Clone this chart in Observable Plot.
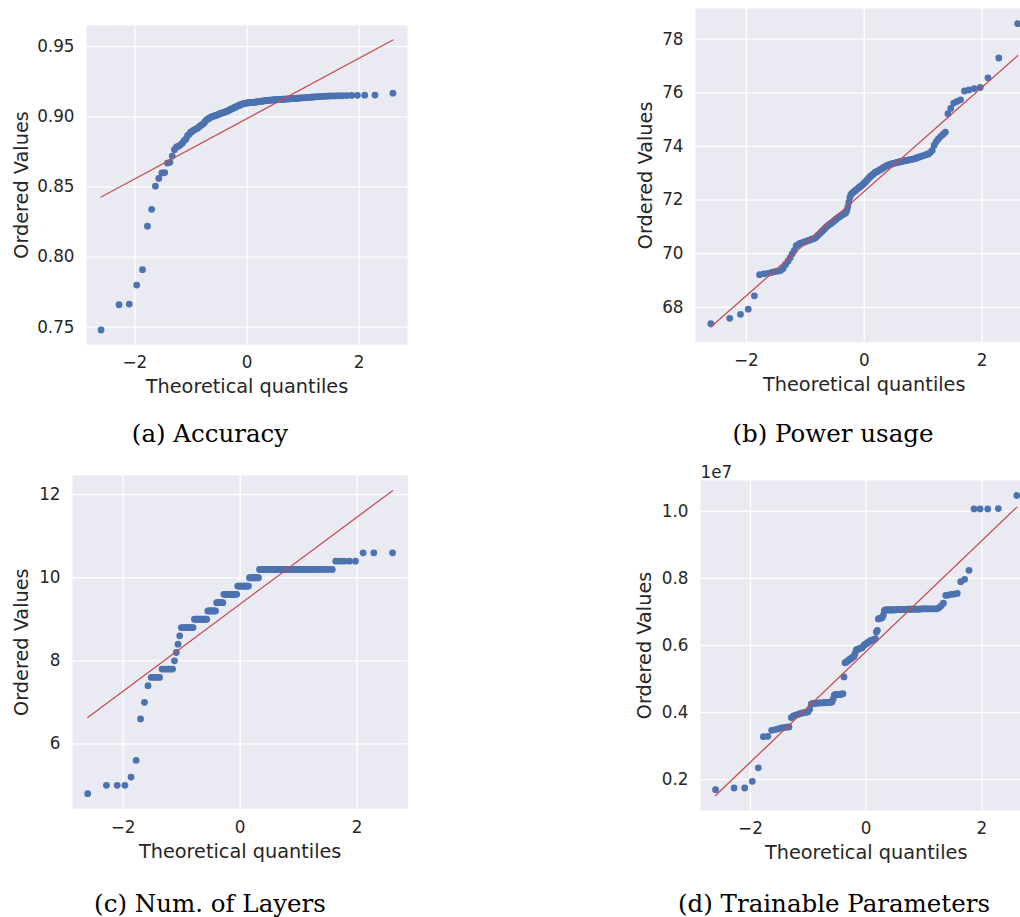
<!DOCTYPE html>
<html>
<head>
<meta charset="utf-8">
<script src="https://cdn.jsdelivr.net/npm/d3@7"></script>
<script src="https://cdn.jsdelivr.net/npm/@observablehq/plot@0.6"></script>
<style>
  html, body { margin: 0; padding: 0; background: #ffffff; }
  #fig { position: relative; width: 1020px; height: 917px; overflow: hidden; background: #ffffff; }
  .panel { position: absolute; width: 420px; height: 400px; }
  .panel svg { max-width: none !important; }
  .caption { position: absolute; transform: translate(-50%, -50%); font-family: "DejaVu Serif", serif; font-size: 24.5px; color: #000; white-space: nowrap; }
</style>
</head>
<body>
<div id="fig"></div>
<script>
// ---------------- Data: ordered sample values (n = 150 each) ----------------
const accuracy = [
  0.748, 0.766, 0.7665, 0.780, 0.791, 0.822, 0.834, 0.8505, 0.856, 0.860,
  0.8602, 0.867, 0.8675, 0.872, 0.8765, 0.8785, 0.879, 0.880, 0.8812, 0.883,
  0.884, 0.8865, 0.8875, 0.889, 0.8895, 0.8905, 0.891, 0.8915, 0.892, 0.893,
  0.8937, 0.8944, 0.895, 0.896, 0.897, 0.898, 0.8985, 0.899, 0.8995, 0.900,
  0.9002, 0.9005, 0.9008, 0.901, 0.9013, 0.9016, 0.902, 0.9022, 0.9025, 0.9028,
  0.903, 0.9033, 0.9035, 0.9038, 0.904, 0.9044, 0.9048, 0.9052, 0.9055, 0.9058,
  0.9062, 0.9065, 0.9068, 0.9071, 0.9075, 0.9078, 0.9081, 0.9084, 0.9087, 0.909,
  0.9092, 0.9094, 0.9096, 0.9097, 0.9098, 0.9099, 0.910, 0.9101, 0.9101, 0.9102,
  0.9102, 0.9103, 0.9103, 0.9104, 0.9105, 0.9106, 0.9107, 0.9108, 0.9109, 0.911,
  0.9111, 0.9112, 0.9113, 0.9114, 0.9115, 0.9116, 0.9116, 0.9117, 0.9118, 0.9118,
  0.9119, 0.912, 0.912, 0.9121, 0.9122, 0.9122, 0.9123, 0.9123, 0.9124, 0.9124,
  0.9125, 0.9125, 0.9126, 0.9126, 0.9127, 0.9127, 0.9128, 0.9129, 0.9129, 0.913,
  0.9131, 0.9131, 0.9132, 0.9133, 0.9134, 0.9135, 0.9135, 0.9136, 0.9137, 0.9138,
  0.9139, 0.914, 0.9141, 0.9142, 0.9143, 0.9144, 0.9145, 0.9146, 0.9147, 0.9148,
  0.9149, 0.9149, 0.915, 0.915, 0.9151, 0.9152, 0.9153, 0.9154, 0.9155, 0.9168
];

const powerUsage = [
  67.39, 67.59, 67.74, 67.93, 68.43, 69.22, 69.25, 69.27, 69.30, 69.33,
  69.35, 69.37, 69.45, 69.60, 69.72, 69.85, 70.00, 70.12, 70.30, 70.34,
  70.38, 70.40, 70.42, 70.45, 70.47, 70.49, 70.51, 70.53, 70.55, 70.57,
  70.60, 70.65, 70.70, 70.74, 70.79, 70.84, 70.88, 70.93, 70.98, 71.02,
  71.06, 71.09, 71.12, 71.15, 71.19, 71.22, 71.26, 71.29, 71.32, 71.35,
  71.38, 71.41, 71.43, 71.46, 71.48, 71.50, 71.53, 71.60, 71.75, 71.92,
  72.10, 72.20, 72.24, 72.28, 72.31, 72.34, 72.37, 72.40, 72.43, 72.46,
  72.49, 72.52, 72.55, 72.58, 72.62, 72.65, 72.69, 72.73, 72.77, 72.81,
  72.85, 72.89, 72.92, 72.95, 72.98, 73.01, 73.04, 73.06, 73.08, 73.10,
  73.12, 73.14, 73.16, 73.19, 73.22, 73.24, 73.26, 73.28, 73.30, 73.31,
  73.33, 73.34, 73.36, 73.37, 73.38, 73.39, 73.40, 73.41, 73.42, 73.43,
  73.44, 73.45, 73.46, 73.47, 73.48, 73.49, 73.50, 73.51, 73.52, 73.53,
  73.54, 73.56, 73.58, 73.60, 73.62, 73.64, 73.66, 73.68, 73.70, 73.72,
  73.78, 73.85, 74.05, 74.18, 74.28, 74.37, 74.45, 74.53, 75.22, 75.42,
  75.62, 75.68, 75.74, 76.07, 76.11, 76.16, 76.20, 76.56, 77.30, 78.58
];

const numLayers = [
  4.8, 5.0, 5.0, 5.0, 5.2, 5.6, 6.6, 7.0, 7.4, 7.6,
  7.6, 7.6, 7.6, 7.8, 7.8, 7.8, 7.8, 7.8, 7.8, 8.0,
  8.2, 8.4, 8.6, 8.8, 8.8, 8.8, 8.8, 8.8, 8.8, 8.8,
  8.8, 8.8, 9.0, 9.0, 9.0, 9.0, 9.0, 9.0, 9.0, 9.0,
  9.0, 9.0, 9.0, 9.2, 9.2, 9.2, 9.2, 9.2, 9.2, 9.2,
  9.2, 9.4, 9.4, 9.4, 9.4, 9.4, 9.4, 9.4, 9.6, 9.6,
  9.6, 9.6, 9.6, 9.6, 9.6, 9.6, 9.6, 9.6, 9.6, 9.6,
  9.6, 9.6, 9.8, 9.8, 9.8, 9.8, 9.8, 9.8, 9.8, 9.8,
  9.8, 9.8, 9.8, 9.8, 10.0, 10.0, 10.0, 10.0, 10.0, 10.0,
  10.0, 10.0, 10.0, 10.0, 10.2, 10.2, 10.2, 10.2, 10.2, 10.2,
  10.2, 10.2, 10.2, 10.2, 10.2, 10.2, 10.2, 10.2, 10.2, 10.2,
  10.2, 10.2, 10.2, 10.2, 10.2, 10.2, 10.2, 10.2, 10.2, 10.2,
  10.2, 10.2, 10.2, 10.2, 10.2, 10.2, 10.2, 10.2, 10.2, 10.2,
  10.2, 10.2, 10.2, 10.2, 10.2, 10.2, 10.2, 10.2, 10.2, 10.2,
  10.2, 10.2, 10.4, 10.4, 10.4, 10.4, 10.4, 10.6, 10.6, 10.6
];

// Trainable parameters, in units of 1e7
const trainableParams = [
  0.170, 0.175, 0.175, 0.195, 0.235, 0.328, 0.329, 0.347, 0.349, 0.351,
  0.354, 0.355, 0.356, 0.357, 0.385, 0.390, 0.392, 0.394, 0.396, 0.398,
  0.399, 0.400, 0.401, 0.402, 0.410, 0.425, 0.427, 0.427, 0.428, 0.428,
  0.428, 0.429, 0.429, 0.429, 0.429, 0.430, 0.430, 0.430, 0.430, 0.431,
  0.431, 0.431, 0.440, 0.452, 0.453, 0.453, 0.454, 0.454, 0.454, 0.455,
  0.455, 0.456, 0.506, 0.548, 0.550, 0.552, 0.555, 0.557, 0.559, 0.561,
  0.563, 0.566, 0.568, 0.575, 0.585, 0.588, 0.589, 0.590, 0.591, 0.592,
  0.593, 0.595, 0.600, 0.602, 0.604, 0.606, 0.608, 0.610, 0.612, 0.614,
  0.615, 0.616, 0.617, 0.618, 0.620, 0.640, 0.645, 0.679, 0.680, 0.681,
  0.682, 0.683, 0.690, 0.704, 0.706, 0.706, 0.706, 0.706, 0.706, 0.706,
  0.706, 0.706, 0.706, 0.706, 0.707, 0.707, 0.707, 0.707, 0.707, 0.707,
  0.707, 0.707, 0.707, 0.707, 0.708, 0.708, 0.708, 0.708, 0.708, 0.708,
  0.708, 0.708, 0.708, 0.708, 0.709, 0.709, 0.709, 0.709, 0.709, 0.709,
  0.709, 0.709, 0.709, 0.709, 0.712, 0.718, 0.726, 0.749, 0.750, 0.752,
  0.753, 0.755, 0.790, 0.797, 0.824, 1.007, 1.007, 1.007, 1.008, 1.047
];

// Tick labels
const xTicks = [-2, 0, 2];
const accuracyTicks = [0.75, 0.80, 0.85, 0.90, 0.95];
const powerTicks = [68, 70, 72, 74, 76, 78];
const layerTicks = [6, 8, 10, 12];
const paramTicks = [0.2, 0.4, 0.6, 0.8, 1.0];

const captions = ["(a) Accuracy", "(b) Power usage", "(c) Num. of Layers", "(d) Trainable Parameters"];

// ---------------- Q-Q transform (as scipy.stats.probplot) ----------------
function normInv(p) {
  const a = [-3.969683028665376e+01, 2.209460984245205e+02, -2.759285104469687e+02, 1.383577518672690e+02, -3.066479806614716e+01, 2.506628277459239e+00];
  const b = [-5.447609879822406e+01, 1.615858368580409e+02, -1.556989798598866e+02, 6.680131188771972e+01, -1.328068155288572e+01];
  const c = [-7.784894002430293e-03, -3.223964580411365e-01, -2.400758277161838e+00, -2.549732539343734e+00, 4.374664141464968e+00, 2.938163982698783e+00];
  const d = [7.784695709041462e-03, 3.224671290700398e-01, 2.445134137142996e+00, 3.754408661907416e+00];
  const pl = 0.02425, ph = 1 - pl;
  let q, r;
  if (p < pl) {
    q = Math.sqrt(-2 * Math.log(p));
    return (((((c[0]*q+c[1])*q+c[2])*q+c[3])*q+c[4])*q+c[5]) / ((((d[0]*q+d[1])*q+d[2])*q+d[3])*q+1);
  }
  if (p <= ph) {
    q = p - 0.5; r = q * q;
    return (((((a[0]*r+a[1])*r+a[2])*r+a[3])*r+a[4])*r+a[5])*q / (((((b[0]*r+b[1])*r+b[2])*r+b[3])*r+b[4])*r+1);
  }
  q = Math.sqrt(-2 * Math.log(1 - p));
  return -(((((c[0]*q+c[1])*q+c[2])*q+c[3])*q+c[4])*q+c[5]) / ((((d[0]*q+d[1])*q+d[2])*q+d[3])*q+1);
}

function qq(values) {
  const ys = values.slice().sort((u, v) => u - v);
  const n = ys.length;
  const last = Math.pow(0.5, 1 / n);
  const rows = ys.map((y, i) => {
    let m;
    if (i === 0) m = 1 - last;
    else if (i === n - 1) m = last;
    else m = (i + 1 - 0.3175) / (n + 0.365);
    return {x: normInv(m), y};
  });
  const mx = d3.mean(rows, d => d.x), my = d3.mean(rows, d => d.y);
  const sxy = d3.sum(rows, d => (d.x - mx) * (d.y - my));
  const sxx = d3.sum(rows, d => (d.x - mx) ** 2);
  const slope = sxy / sxx, intercept = my - slope * mx;
  const x0 = rows[0].x, x1 = rows[n - 1].x;
  const fit = [{x: x0, y: intercept + slope * x0}, {x: x1, y: intercept + slope * x1}];
  return {rows, fit};
}

function pad(lo, hi) { const m = (hi - lo) * 0.05; return [lo - m, hi + m]; }

// ---------------- Panel drawing ----------------
const BG = "#EAEAF2", BLUE = "#4C72B0", RED = "#C44E52", TXT = "#262626";
const fmtInt = d3.format("d");

function panel(values, opts) {
  const {rows, fit} = qq(values);
  const xDom = pad(rows[0].x, rows[rows.length - 1].x);
  const yAll = rows.map(d => d.y).concat(fit.map(d => d.y));
  const yDom = pad(d3.min(yAll), d3.max(yAll));
  const marks = [
    Plot.frame({fill: BG, stroke: null}),
    Plot.ruleX(xTicks, {stroke: "#ffffff", strokeWidth: 1.3}),
    Plot.ruleY(opts.yTicks, {stroke: "#ffffff", strokeWidth: 1.3}),
    Plot.dot(rows, {x: "x", y: "y", r: 3.4, fill: BLUE, stroke: null}),
    Plot.line(fit, {x: "x", y: "y", stroke: RED, strokeWidth: 1.3}),
    Plot.text(["Theoretical quantiles"], {text: d => d, frameAnchor: "bottom", textAnchor: "middle", lineAnchor: "middle", dy: opts.xLabelDy, fontSize: 19.3, fill: TXT}),
    Plot.text(["Ordered Values"], {text: d => d, frameAnchor: "left", textAnchor: "middle", lineAnchor: "middle", rotate: -90, dx: opts.yLabelDx, fontSize: 19.3, fill: TXT})
  ];
  if (opts.offsetText) {
    marks.push(Plot.text([opts.offsetText], {text: d => d, frameAnchor: "top-left", textAnchor: "start", lineAnchor: "bottom", dy: -3, fontSize: 16.8, fill: TXT}));
  }
  return Plot.plot({
    width: opts.width, height: opts.height,
    marginLeft: opts.ml, marginRight: opts.mr, marginTop: opts.mt, marginBottom: opts.mb,
    style: {fontFamily: "DejaVu Sans, sans-serif", fontSize: "16.8px", color: TXT, background: "transparent", overflow: "visible", maxWidth: "none"},
    x: {domain: xDom, ticks: xTicks, tickSize: 0, tickPadding: 12, tickFormat: fmtInt, label: null},
    y: {domain: yDom, ticks: opts.yTicks, tickSize: 0, tickPadding: 12, tickFormat: opts.fmt, label: null},
    marks
  });
}

const fig = document.getElementById("fig");
function place(node, left, top) {
  const div = document.createElement("div");
  div.className = "panel";
  div.style.left = left + "px";
  div.style.top = top + "px";
  div.appendChild(node);
  fig.appendChild(div);
}
function caption(text, cx, cy) {
  const div = document.createElement("div");
  div.className = "caption";
  div.style.left = cx + "px";
  div.style.top = cy + "px";
  div.textContent = text;
  fig.appendChild(div);
}

place(panel(accuracy, {width: 420, height: 400, ml: 86, mr: 13, mt: 25, mb: 56, yTicks: accuracyTicks, fmt: d3.format(".2f"), xLabelDy: 42, yLabelDx: -65}), 0, 0);
place(panel(powerUsage, {width: 420, height: 400, ml: 75, mr: 7.5, mt: 8, mb: 58.3, yTicks: powerTicks, fmt: fmtInt, xLabelDy: 43, yLabelDx: -50}), 620, 0);
place(panel(numLayers, {width: 420, height: 400, ml: 72, mr: 12.7, mt: 15, mb: 51.7, yTicks: layerTicks, fmt: fmtInt, xLabelDy: 43, yLabelDx: -51}), 0, 460);
place(panel(trainableParams, {width: 420, height: 400, ml: 80, mr: 8.6, mt: 20, mb: 50, yTicks: paramTicks, fmt: d3.format(".1f"), xLabelDy: 42, yLabelDx: -56, offsetText: "1e7"}), 620, 460);

caption(captions[0], 210, 433);
caption(captions[1], 833, 433);
caption(captions[2], 210, 903);
caption(captions[3], 834, 903);
</script>
</body>
</html>
